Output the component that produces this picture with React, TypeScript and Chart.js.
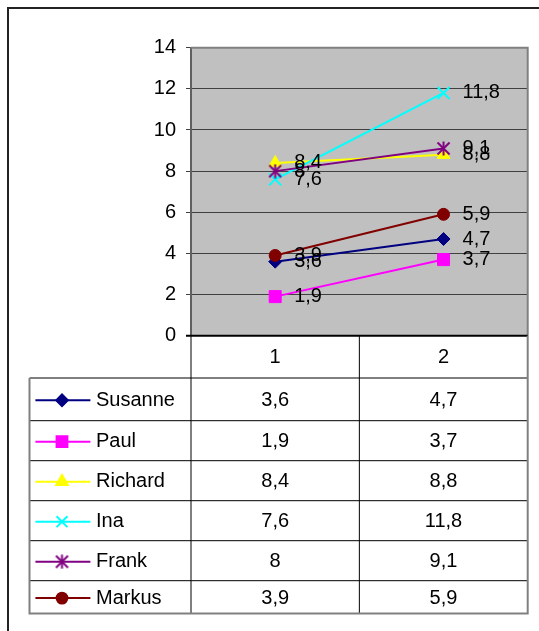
import React, { useEffect, useRef } from 'react';
import { Chart, registerables } from 'chart.js';
import { drawPoint } from 'chart.js/helpers';

Chart.register(...registerables);

// ---- data ----
const categories = ['1', '2'];
const seriesNames = ['Susanne', 'Paul', 'Richard', 'Ina', 'Frank', 'Markus'];
const susanne = [3.6, 4.7];
const paul = [1.9, 3.7];
const richard = [8.4, 8.8];
const ina = [7.6, 11.8];
const frank = [8, 9.1];
const markus = [3.9, 5.9];
const seriesValues = [susanne, paul, richard, ina, frank, markus];
const yMin = 0;
const yMax = 14;
const yStep = 2;

// ---- styles ----
const colors = ['#000080', '#FF00FF', '#FFFF00', '#00FFFF', '#800080', '#800000'];
const pointStyles: any[] = ['rectRot', 'rect', 'triangle', 'crossRot', 'excelStar', 'circle'];
const pointRadii = [6.5, 8.5, 7.5, 8.5, 7.5, 6];
const pointBorders = [1, 1, 1, 2, 2, 1];

const FONT = "'Liberation Sans', Arial, sans-serif";
const FONT_SIZE = 20;

// page layout (canvas covers the whole viewport)
const W = 539;
const H = 631;
const FRAME = 7;
const ROW_EDGES = [378, 420.7, 460.7, 500.7, 540.7, 580.7, 613.5];
const TABLE_LEFT = 29.5;
const SAMPLE_X0 = 35.4;
const SAMPLE_X1 = 90.4;
const SAMPLE_MID = 62;
const NAME_X = 96;

const fmt = (v: number) => String(v).replace('.', ',');

function line(ctx: CanvasRenderingContext2D, x0: number, y0: number, x1: number, y1: number) {
  ctx.beginPath();
  ctx.moveTo(x0, y0);
  ctx.lineTo(x1, y1);
  ctx.stroke();
}

function makeStar(color: string) {
  const c = document.createElement('canvas');
  const s = 15;
  c.width = s;
  c.height = s;
  const g = c.getContext('2d')!;
  g.strokeStyle = color;
  g.lineWidth = 2;
  g.lineCap = 'butt';
  line(g, s / 2, 0.5, s / 2, s - 0.5);
  line(g, 1.5, 1.5, s - 1.5, s - 1.5);
  line(g, s - 1.5, 1.5, 1.5, s - 1.5);
  return c;
}

const excelPlugin = {
  id: 'excelLook',
  beforeDraw(chart: any) {
    const { ctx, chartArea: a, width, height } = chart;
    ctx.save();
    ctx.fillStyle = '#ffffff';
    ctx.fillRect(0, 0, width, height);
    ctx.fillStyle = '#222222';
    ctx.fillRect(FRAME, FRAME, 2, height - FRAME);
    ctx.fillRect(FRAME, FRAME, width - FRAME, 2);
    ctx.fillStyle = '#c0c0c0';
    ctx.fillRect(a.left, a.top, a.right - a.left, a.bottom - a.top);
    ctx.restore();
  },
  beforeDatasetsDraw(chart: any) {
    const { ctx, chartArea: a } = chart;
    ctx.save();
    ctx.strokeStyle = '#808080';
    ctx.lineWidth = 2;
    ctx.beginPath();
    ctx.moveTo(a.left, a.top);
    ctx.lineTo(a.right, a.top);
    ctx.lineTo(a.right, a.bottom);
    ctx.stroke();
    ctx.strokeStyle = '#000000';
    ctx.lineWidth = 2;
    line(ctx, a.left - 5, a.bottom, a.right, a.bottom);
    ctx.restore();
  },
  afterDatasetsDraw(chart: any) {
    const { ctx } = chart;
    ctx.save();
    ctx.font = `${FONT_SIZE}px ${FONT}`;
    ctx.fillStyle = '#000000';
    ctx.textAlign = 'left';
    ctx.textBaseline = 'middle';
    chart.data.datasets.forEach((ds: any, i: number) => {
      const meta = chart.getDatasetMeta(i);
      meta.data.forEach((pt: any, j: number) => {
        ctx.fillText(fmt(ds.data[j]), pt.x + 19, pt.y);
      });
    });
    ctx.restore();
  },
  afterDraw(chart: any) {
    const { ctx, chartArea: a } = chart;
    const xs = chart.scales.x;
    const px = categories.map((_, i) => xs.getPixelForValue(i));
    const mid = (px[0] + px[1]) / 2;
    const last = ROW_EDGES[ROW_EDGES.length - 1];
    ctx.save();
    ctx.strokeStyle = '#000000';
    ctx.lineWidth = 1;
    [a.left, mid].forEach((x) => line(ctx, x, a.bottom, x, ROW_EDGES[0]));
    ROW_EDGES.slice(0, -1).forEach((y) => line(ctx, TABLE_LEFT, y, a.right, y));
    [a.left, mid].forEach((x) => line(ctx, x, ROW_EDGES[0], x, last));
    // outer gray border
    ctx.strokeStyle = '#808080';
    ctx.lineWidth = 2;
    ctx.beginPath();
    ctx.moveTo(TABLE_LEFT, ROW_EDGES[0]);
    ctx.lineTo(TABLE_LEFT, last);
    ctx.lineTo(a.right, last);
    ctx.lineTo(a.right, a.bottom);
    ctx.stroke();

    ctx.font = `${FONT_SIZE}px ${FONT}`;
    ctx.fillStyle = '#000000';
    ctx.textBaseline = 'middle';
    ctx.textAlign = 'center';
    categories.forEach((c, i) => ctx.fillText(c, px[i], (a.bottom + ROW_EDGES[0]) / 2 + 1));

    const ds = chart.data.datasets;
    seriesNames.forEach((name, r) => {
      const yc = (ROW_EDGES[r] + ROW_EDGES[r + 1]) / 2 + 1;
      ctx.strokeStyle = colors[r];
      ctx.fillStyle = colors[r];
      ctx.lineWidth = 2;
      line(ctx, SAMPLE_X0, yc, SAMPLE_X1, yc);
      drawPoint(
        ctx,
        { pointStyle: ds[r].pointStyle, radius: pointRadii[r] * 0.9, borderWidth: pointBorders[r], rotation: 0 } as any,
        SAMPLE_MID,
        yc
      );
      ctx.fillStyle = '#000000';
      ctx.textAlign = 'left';
      ctx.fillText(name, NAME_X, yc);
      ctx.textAlign = 'center';
      seriesValues[r].forEach((v, i) => ctx.fillText(fmt(v), px[i], yc));
    });
    ctx.restore();
  },
};

export default function App() {
  const ref = useRef<HTMLCanvasElement>(null);
  useEffect(() => {
    if (!ref.current) return;
    const n = seriesNames.length;
    const styles = pointStyles.map((p, i) => (p === 'excelStar' ? makeStar(colors[i]) : p));
    const chart = new Chart(ref.current, {
      type: 'line',
      data: {
        labels: categories,
        datasets: seriesNames.map((name, i) => ({
          label: name,
          data: seriesValues[i],
          borderColor: colors[i],
          backgroundColor: colors[i],
          pointBackgroundColor: colors[i],
          pointBorderColor: colors[i],
          borderWidth: 2,
          pointStyle: styles[i],
          pointRadius: pointRadii[i],
          pointBorderWidth: pointBorders[i],
          tension: 0,
          fill: false,
          order: n - 1 - i,
        })),
      },
      options: {
        responsive: false,
        animation: false,
        devicePixelRatio: 1,
        layout: { padding: { left: 0, top: 47.7, right: 11.3, bottom: 295.3 } },
        plugins: {
          legend: { display: false },
          tooltip: { enabled: false },
          title: { display: false },
        },
        scales: {
          x: { type: 'category', display: false, offset: true },
          y: {
            min: yMin,
            max: yMax,
            ticks: {
              stepSize: yStep,
              color: '#000000',
              font: { family: FONT, size: FONT_SIZE },
              padding: 10,
            },
            grid: { color: '#404040', lineWidth: 1, tickLength: 5, drawTicks: true },
            border: { color: '#606060', width: 2 },
            afterFit: (s: any) => {
              s.width = 191;
            },
          },
        },
      },
      plugins: [excelPlugin],
    } as any);
    return () => chart.destroy();
  }, []);
  return (
    <canvas
      ref={ref}
      width={W}
      height={H}
      style={{ display: 'block', position: 'fixed', left: 0, top: 0 }}
    />
  );
}
